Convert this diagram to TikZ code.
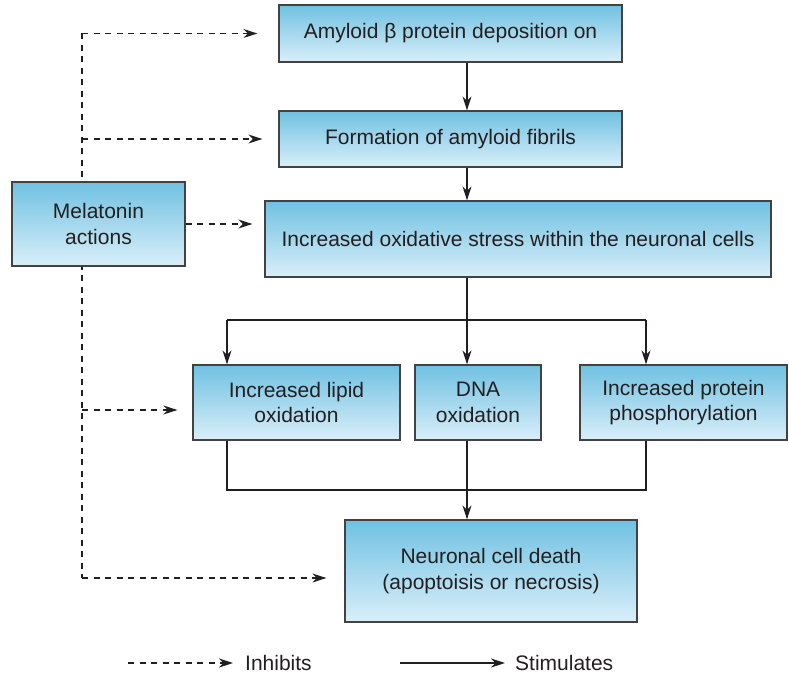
\documentclass[tikz,border=0pt]{standalone}
\usepackage{fontspec}
\setmainfont{Liberation Sans}
\usetikzlibrary{arrows.meta}
\definecolor{boxtop}{RGB}{112,193,226}
\definecolor{boxbot}{RGB}{217,239,249}
\definecolor{ink}{RGB}{35,31,32}
\begin{document}
\begin{tikzpicture}[x=1pt,y=-1pt,
  box/.style={draw=ink!85, line width=1.3pt, top color=boxtop, bottom color=boxbot,
    align=center, inner sep=0pt, text=ink, font=\fontsize{21}{25.5}\selectfont},
  tip/.style={-{Stealth[length=14pt,width=9pt,inset=4.5pt]}},
  link/.style={draw=ink, line width=1.1pt},
  stim/.style={link, tip},
  inhline/.style={link, dash pattern=on 6pt off 5.5pt},
  inh/.style={inhline, tip},
  lbl/.style={text=ink, font=\fontsize{21}{25.5}\selectfont, inner sep=0pt, anchor=west}]

\useasboundingbox (0,0) rectangle (789,676);

% melatonin trunk (dashed), drawn first so the box sits over it
\coordinate (mt) at (82,33.5);
\coordinate (mb) at (82,578);
\draw[inhline] (mt) -- (mb);

% boxes
\node[box, minimum width=343pt, minimum height=57pt] (A) at (450.5,33.5) {Amyloid β protein deposition on};
\node[box, minimum width=343pt, minimum height=56pt] (B) at (450.5,139) {Formation of amyloid fibrils};
\node[box, minimum width=506pt, minimum height=76pt] (C) at (518,239) {Increased oxidative stress within the neuronal cells};
\node[box, minimum width=173pt, minimum height=84pt] (M) at (98.5,224) {Melatonin\\actions};
\node[box, minimum width=207pt, minimum height=75pt] (L) at (296.5,402.5) {Increased lipid\\oxidation};
\node[box, minimum width=126pt, minimum height=75pt] (D) at (478,402.5) {DNA\\oxidation};
\node[box, minimum width=207pt, minimum height=75pt] (P) at (683.5,402.5) {Increased protein\\phosphorylation};
\node[box, minimum width=292pt, minimum height=102pt] (N) at (491,571) {Neuronal cell death\\(apoptoisis or necrosis)};

% main stimulatory chain
\coordinate (trunk) at (467,0);
\coordinate (split) at (467,320);
\coordinate (join) at (467,490);
\draw[stim] (A.south -| trunk) -- (B.north -| trunk);
\draw[stim] (B.south -| trunk) -- (C.north -| trunk);
\draw[link] (C.south -| trunk) -- (split);
\draw[stim] (split -| 227,0) -- (L.north -| 227,0);
\draw[stim] (split) -- (D.north -| trunk);
\draw[stim] (split -| 646,0) -- (P.north -| 646,0);
\draw[link] (split -| 227,0) -- (split -| 646,0);
\draw[link] (L.south -| 227,0) -- (join -| 227,0) -- (join -| 646,0) -- (P.south -| 646,0);
\draw[stim] (D.south -| trunk) -- (N.north -| trunk);

% inhibitory arrows from melatonin
\draw[inh, shorten >=21pt] (mt) -- (A.west);
\draw[inh, shorten >=16pt] (mt |- B.west) -- (B.west);
\draw[inh, shorten >=12pt] (M.east) -- (C.west |- M.east);
\draw[inh, shorten >=15pt] (82,410) -- (L.west |- 0,410);
\draw[inh, shorten >=18pt] (mb) -- (N.west |- mb);

% legend
\coordinate (ia) at (128,663);
\coordinate (ib) at (233,663);
\coordinate (sa) at (400,663);
\coordinate (sb) at (505,663);
\draw[inh] (ia) -- (ib);
\node[lbl] (inhtext) at (245,663) {Inhibits};
\draw[stim] (sa) -- (sb);
\node[lbl] (stimtext) at (515,663) {Stimulates};
\end{tikzpicture}
\end{document}
